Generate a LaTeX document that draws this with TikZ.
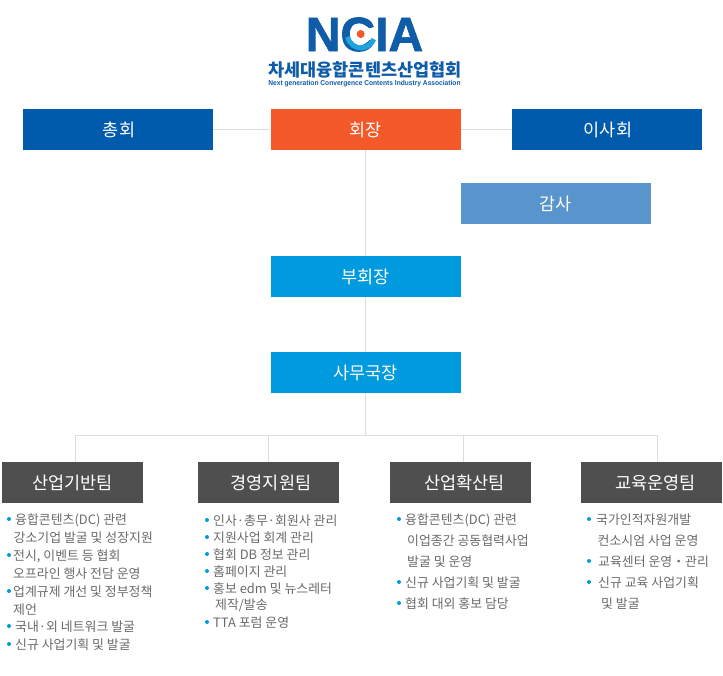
\documentclass[tikz,border=0pt]{standalone}
\usepackage{fontspec}
\setmainfont{Noto Sans CJK KR}
\newfontfamily\latinfont{Liberation Sans}
\newfontfamily\logofont[FakeBold=1.5]{Liberation Sans Bold}
\definecolor{logoblue}{HTML}{0F5CA8}
\definecolor{logocyan}{HTML}{1FA3DC}
\definecolor{darkblue}{HTML}{005BAC}
\definecolor{chairorange}{HTML}{F4592A}
\definecolor{auditblue}{HTML}{5895CC}
\definecolor{skyblue}{HTML}{009ADE}
\definecolor{teamgray}{HTML}{4F4F4F}
\definecolor{textgray}{HTML}{6A6A6A}
\definecolor{linegray}{HTML}{DDDDDD}
\tikzset{
	box/.style={minimum width=190pt, minimum height=41pt, inner sep=0pt, text=white, font=\fontsize{17.5}{17.5}\selectfont},
	team/.style={box, minimum width=141pt, fill=teamgray},
	item/.style={anchor=west, inner sep=0pt, yshift=-1pt, text=textgray, font=\fontsize{12.9}{12.9}\selectfont},
	dot/.style={circle, fill=skyblue, minimum size=4pt, inner sep=0pt},
	link/.style={draw=linegray, line width=1pt}
}
\begin{document}
\begin{tikzpicture}[x=1pt, y=-1pt]
	\useasboundingbox (0,0) rectangle (723,676);
	% logo
	\node[text=logoblue, inner sep=0pt, font=\logofont\fontsize{48}{48}\selectfont] (logo) at (364.5,34.5) {NCIA};
	\fill[white] (361,34.5) circle (10);
	\draw[logocyan, line width=5pt] (347.7,36.8) arc (170:20:13.5);
	\node[circle, fill=chairorange, minimum size=8pt, inner sep=0pt] (logodot) at (360.7,34) {};
	\node[text=logoblue, inner sep=0pt, font=\bfseries\fontsize{17.5}{17.5}\selectfont] (logokr) at (365,70) {차세대융합콘텐츠산업협회};
	\node[text=logoblue, inner sep=0pt, font=\latinfont\bfseries\fontsize{7.1}{7.1}\selectfont] (logoen) at (364.5,84) {\scalebox{0.935}[1]{Next generation Convergence Contents Industry Association}};
	% boxes
	\node[box, fill=darkblue] (assembly) at (118,129.5) {\hspace*{2pt}총회};
	\node[box, fill=chairorange] (chair) at (365.5,129.5) {회장};
	\node[box, fill=darkblue] (board) at (607,129.5) {\hspace*{2pt}이사회};
	\node[box, fill=auditblue] (audit) at (555.5,203.5) {감사};
	\node[box, fill=skyblue] (vice) at (365.5,276.5) {부회장};
	\node[box, fill=skyblue] (secretary) at (365.5,372.5) {사무국장};
	\node[team] (team1) at (72.5,482.5) {산업기반팀};
	\node[team] (team2) at (268.5,482.5) {\hspace*{5pt}경영지원팀};
	\node[team] (team3) at (460.5,482.5) {\hspace*{8pt}산업확산팀};
	\node[team] (team4) at (651.5,482.5) {\hspace*{8pt}교육운영팀};
	% connectors
	\coordinate (trunk) at (365.5,435);
	\coordinate (drop1) at (75,435);
	\coordinate (drop2) at (268,435);
	\coordinate (drop3) at (463,435);
	\coordinate (drop4) at (657,435);
	\draw[link] (assembly) -- (chair);
	\draw[link] (chair) -- (board);
	\draw[link] (chair) -- (vice);
	\draw[link] (vice) -- (secretary);
	\draw[link] (secretary) -- (trunk);
	\draw[link] (drop1) -- (drop4);
	\draw[link] (drop1) -- (drop1 |- team1.north);
	\draw[link] (drop2) -- (drop2 |- team2.north);
	\draw[link] (drop3) -- (drop3 |- team3.north);
	\draw[link] (drop4) -- (drop4 |- team4.north);
	% team 1
	\node[dot] (d11) at (9,519) {};
	\node[item] (t11) at (15,519) {융합콘텐츠(DC) 관련};
	\node[item] (t12) at (13.5,537) {강소기업 발굴 및 성장지원};
	\node[dot] (d13) at (9,555) {};
	\node[item] (t13) at (13,555) {전시, 이벤트 등 협회};
	\node[item] (t14) at (13,573) {오프라인 행사 전담 운영};
	\node[dot] (d15) at (9,591) {};
	\node[item] (t15) at (13,591) {업계규제 개선 및 정부정책};
	\node[item] (t16) at (13,609) {제언};
	\node[dot] (d17) at (9,626) {};
	\node[item] (t17) at (15,626) {국내·외 네트워크 발굴};
	\node[dot] (d18) at (9,644) {};
	\node[item] (t18) at (15,644) {신규 사업기획 및 발굴};
	% team 2
	\node[dot] (d21) at (207,520) {};
	\node[item] (t21) at (213,520) {인사·총무·회원사 관리};
	\node[dot] (d22) at (207,537) {};
	\node[item] (t22) at (213,537) {지원사업 회계 관리};
	\node[dot] (d23) at (207,554) {};
	\node[item] (t23) at (213,554) {협회 DB 정보 관리};
	\node[dot] (d24) at (207,571) {};
	\node[item] (t24) at (213,571) {홈페이지 관리};
	\node[dot] (d25) at (207,588) {};
	\node[item] (t25) at (213,588) {홍보 edm 및 뉴스레터};
	\node[item] (t26) at (215,604) {제작/발송};
	\node[dot] (d27) at (207,622) {};
	\node[item] (t27) at (213,622) {TTA 포럼 운영};
	% team 3
	\node[dot] (d31) at (399,519) {};
	\node[item] (t31) at (405,519) {융합콘텐츠(DC) 관련};
	\node[item] (t32) at (407,540) {이업종간 공동협력사업};
	\node[item] (t33) at (407,561) {발굴 및 운영};
	\node[dot] (d34) at (399,582) {};
	\node[item] (t34) at (405,582) {신규 사업기획 및 발굴};
	\node[dot] (d35) at (399,603) {};
	\node[item] (t35) at (405,603) {협회 대외 홍보 담당};
	% team 4
	\node[dot] (d41) at (589,519) {};
	\node[item] (t41) at (596,519) {국가인적자원개발};
	\node[item] (t42) at (597.5,540) {컨소시엄 사업 운영};
	\node[dot] (d43) at (589,561) {};
	\node[item] (t43) at (598,561) {교육센터 운영・관리};
	\node[dot] (d44) at (589,582) {};
	\node[item] (t44) at (598,582) {신규 교육 사업기획};
	\node[item] (t45) at (601,603) {및 발굴};
\end{tikzpicture}
\end{document}
